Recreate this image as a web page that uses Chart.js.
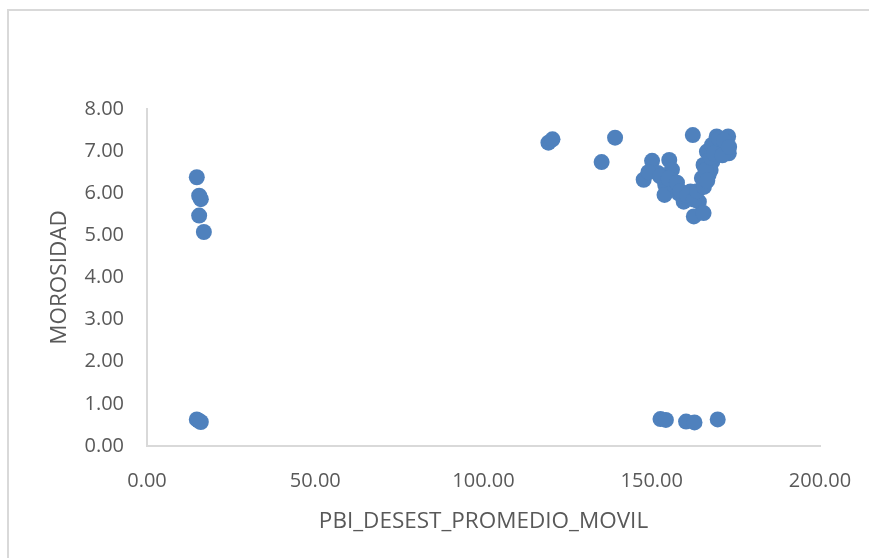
<!DOCTYPE html>
<html>
<head>
<meta charset="utf-8">
<script src="https://cdn.jsdelivr.net/npm/chart.js@4"></script>
<style>
  html, body { margin: 0; padding: 0; background: #fff; }
  #wrap { position: relative; width: 869px; height: 558px; overflow: hidden; }
  #frame { position: absolute; left: 7px; top: 9px; width: 900px; height: 600px;
           border-left: 2px solid #d9d9d9; border-top: 2px solid #d9d9d9; }
  canvas { position: absolute; left: 0; top: 0; }
</style>
</head>
<body>
<div id="wrap">
  <div id="frame"></div>
  <canvas id="c" width="869" height="558"></canvas>
</div>
<script>
// Data
const pbiValues = [
  14.8, 15.5, 16.0, 15.5, 16.9, 14.8, 15.4, 16.0,
  119.3, 120.5, 139.1, 135.1,
  147.6, 150.1, 155.2, 151.8, 156.0, 154.0, 153.8, 156.9, 159.5, 161.5,
  164.0, 162.5, 165.4, 164.9, 166.9, 165.4, 166.4, 169.9, 172.9, 168.0,
  169.3, 172.7, 167.9, 170.9, 162.2, 158.0, 160.5, 170.5, 171.5, 167.5,
  149.0, 152.5, 155.0, 157.5, 158.5, 160.5, 162.5, 163.5, 165.5, 166.0,
  167.5, 168.5, 171.0, 170.0, 171.5, 173.0, 166.5,
  152.6, 154.2, 160.2, 162.7, 169.6
];
const morosidadValues = [
  6.38, 5.94, 5.86, 5.47, 5.08, 0.63, 0.60, 0.57,
  7.20, 7.28, 7.32, 6.74,
  6.32, 6.77, 6.79, 6.48, 6.56, 6.20, 5.96, 6.16, 5.80, 6.04,
  5.80, 5.45, 5.53, 6.36, 6.44, 6.67, 6.99, 7.03, 6.95, 6.75,
  7.35, 7.35, 7.15, 7.22, 7.38, 6.00, 5.90, 7.10, 7.05, 6.55,
  6.50, 6.40, 6.35, 6.25, 6.05, 5.95, 5.85, 6.05, 6.15, 6.55,
  6.85, 6.95, 6.90, 7.30, 7.25, 7.10, 6.30,
  0.64, 0.62, 0.58, 0.56, 0.63
];
const xTitle = 'PBI_DESEST_PROMEDIO_MOVIL';
const yTitle = 'MOROSIDAD';

const points = pbiValues.map((x, i) => ({ x: x, y: morosidadValues[i] }));
const textColor = '#595959';
const axisColor = '#d9d9d9';
const fontFamily = '"Open Sans", "Liberation Sans", sans-serif';

new Chart(document.getElementById('c'), {
  type: 'scatter',
  data: {
    datasets: [{
      data: points,
      backgroundColor: '#4f81bd',
      borderColor: '#4f81bd',
      borderWidth: 0,
      pointRadius: 8,
      pointHoverRadius: 8
    }]
  },
  options: {
    responsive: false,
    animation: false,
    events: [],
    layout: { padding: { left: 40, right: 49, top: 109, bottom: 20 } },
    plugins: { legend: { display: false }, tooltip: { enabled: false } },
    scales: {
      x: {
        type: 'linear', min: 0, max: 200,
        grid: { display: false, drawTicks: false },
        border: { display: true, color: axisColor, width: 2 },
        ticks: {
          stepSize: 50, padding: 23, color: textColor, maxRotation: 0,
          font: { family: fontFamily, size: 20 },
          callback: v => v.toFixed(2)
        },
        title: {
          display: true, text: xTitle, color: textColor,
          font: { family: fontFamily, size: 22.5 },
          padding: { top: 0, bottom: 3 }
        },
        afterFit: s => { s.height = 92; s.paddingLeft = 0; s.paddingRight = 0; }
      },
      y: {
        type: 'linear', min: 0, max: 8,
        grid: { display: false, drawTicks: false },
        border: { display: true, color: axisColor, width: 2 },
        ticks: {
          stepSize: 1, padding: 23, color: textColor,
          font: { family: fontFamily, size: 20 },
          callback: v => v.toFixed(2)
        },
        title: {
          display: true, text: yTitle, color: textColor,
          font: { family: fontFamily, size: 22.5 },
          padding: { top: 6, bottom: 0 }
        },
        afterFit: s => { s.width = 107; s.paddingTop = 0; s.paddingBottom = 0; }
      }
    }
  }
});
</script>
</body>
</html>
